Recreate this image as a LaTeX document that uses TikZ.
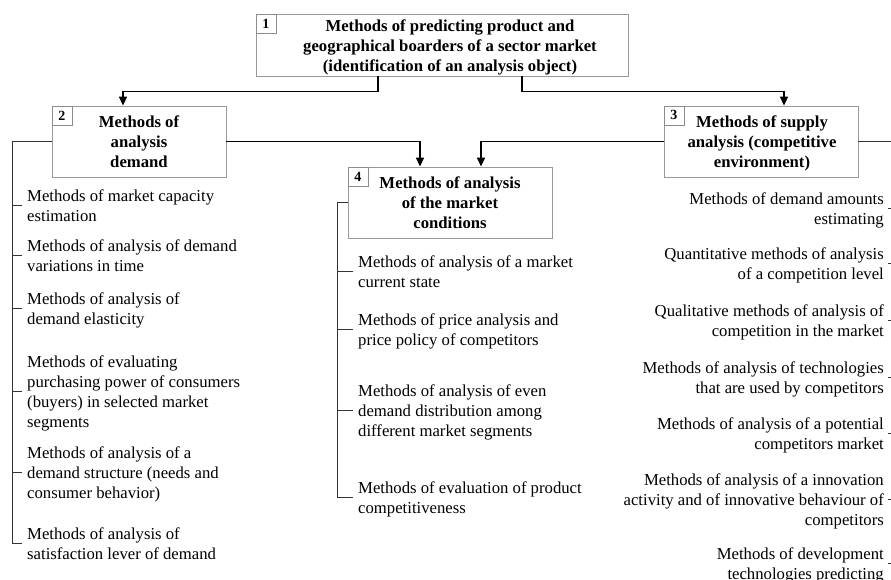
\documentclass[tikz,border=0pt]{standalone}
\usepackage{fontspec}
\setmainfont{Liberation Serif}
\usetikzlibrary{arrows.meta,shadows}

\begin{document}
\begin{tikzpicture}[x=1pt,y=-1pt,
  box/.style={draw=black!40, line width=0.8pt, fill=white, inner sep=0pt,
    drop shadow={shadow xshift=1.2pt, shadow yshift=-1.2pt, fill=black!22, opacity=1}},
  numbox/.style={draw=black!45, line width=0.6pt, fill=white, inner sep=0pt,
    minimum width=20pt, minimum height=19pt, anchor=north west,
    font=\fontsize{14}{16}\selectfont\bfseries},
  head/.style={align=center, inner sep=0pt, yshift=-3.5pt,
    font=\fontsize{16.7}{20}\selectfont\bfseries,
    execute at begin node=\strut, execute at end node=\strut},
  % text sits 3.5pt below its tick point
  item/.style={align=left, inner xsep=5pt, inner ysep=0pt, anchor=west, yshift=-3.5pt,
    font=\fontsize{16.7}{20}\selectfont,
    execute at begin node=\strut, execute at end node=\strut},
  ritem/.style={item, align=right, inner xsep=4pt, anchor=east},
  flow/.style={line width=1.5pt, -{Triangle[width=8pt,length=9pt]}},
  branch/.style={line width=0.9pt, draw=black!80}
]
\useasboundingbox (0,0) rectangle (891,579);

% main boxes
\node[box, minimum width=372pt, minimum height=62pt] (b1) at (442,45) {};
\node[box, minimum width=174pt, minimum height=71pt] (b2) at (139,141.5) {};
\node[box, minimum width=194pt, minimum height=71pt] (b3) at (761,141.5) {};
\node[box, minimum width=204pt, minimum height=71pt] (b4) at (450,202.5) {};

% box numbers
\node[numbox] (n1) at (b1.north west) {1};
\node[numbox] (n2) at (b2.north west) {2};
\node[numbox] (n3) at (b3.north west) {3};
\node[numbox] (n4) at (b4.north west) {4};

% box titles
\node[head] (t1) at (450,45) {Methods of predicting product and\\geographical boarders of a sector market\\(identification of an analysis object)};
\node[head] (t2) at (139,141.5) {Methods of\\analysis\\demand};
\node[head] (t3) at (762,141.5) {Methods of supply\\analysis (competitive\\environment)};
\node[head] (t4) at (450,202) {Methods of analysis\\of the market\\conditions};

% main flow
\draw[flow] ([xshift=-64pt]b1.south) -- ++(0,15) -| ([xshift=-16pt]b2.north);
\draw[flow] ([xshift=80pt]b1.south) -- ++(0,15) -| ([xshift=23pt]b3.north);
\draw[flow] (b2.east) -| ([xshift=-30pt]b4.north);
\draw[flow] (b3.west) -| ([xshift=31pt]b4.north);

% demand analysis methods
\path (22,205)   coordinate (l1-t) node[item] (l1) {Methods of market capacity\\estimation};
\path (22,255)   coordinate (l2-t) node[item] (l2) {Methods of analysis of demand\\variations in time};
\path (22,308.5) coordinate (l3-t) node[item] (l3) {Methods of analysis of\\demand elasticity};
\path (22,391)   coordinate (l4-t) node[item] (l4) {Methods of evaluating\\purchasing power of consumers\\(buyers) in selected market\\segments};
\path (22,472)   coordinate (l5-t) node[item] (l5) {Methods of analysis of a\\demand structure (needs and\\consumer behavior)};
\path (22,543)   coordinate (l6-t) node[item] (l6) {Methods of analysis of\\satisfaction lever of demand};

\coordinate (lbus) at (12,0);
\draw[branch] (b2.west) -| (lbus |- l6-t) -- (l6-t);
\foreach \n in {l1,l2,l3,l4,l5}
  \draw[branch] (lbus |- \n-t) -- (\n-t);

% market conditions methods
\path (353,271) coordinate (c1-t) node[item] (c1) {Methods of analysis of a market\\current state};
\path (353,329) coordinate (c2-t) node[item] (c2) {Methods of price analysis and\\price policy of competitors};
\path (353,410) coordinate (c3-t) node[item] (c3) {Methods of analysis of even\\demand distribution among\\different market segments};
\path (353,497) coordinate (c4-t) node[item] (c4) {Methods of evaluation of product\\competitiveness};

\coordinate (cbus) at (337,0);
\draw[branch] (b4.west) -| (cbus |- c4-t) -- (c4-t);
\foreach \n in {c1,c2,c3}
  \draw[branch] (cbus |- \n-t) -- (\n-t);

% supply analysis methods
\path (888,208)   coordinate (r1-t) node[ritem] (r1) {Methods of demand amounts\\estimating};
\path (888,263)   coordinate (r2-t) node[ritem] (r2) {Quantitative methods of analysis\\of a competition level};
\path (888,320)   coordinate (r3-t) node[ritem] (r3) {Qualitative methods of analysis of\\competition in the market};
\path (888,377.5) coordinate (r4-t) node[ritem] (r4) {Methods of analysis of technologies\\that are used by competitors};
\path (888,433)   coordinate (r5-t) node[ritem] (r5) {Methods of analysis of a potential\\competitors market};
\path (888,499)   coordinate (r6-t) node[ritem] (r6) {Methods of analysis of a innovation\\activity and of innovative behaviour of\\competitors};
\path (888,563)   coordinate (r7-t) node[ritem] (r7) {Methods of development\\technologies predicting};

\coordinate (rbus) at (891,0);
\draw[branch] (b3.east) -- (rbus |- b3.east);
\foreach \n in {r1,r2,r3,r4,r5,r6,r7}
  \draw[branch] (\n-t) -- (rbus |- \n-t);

\end{tikzpicture}
\end{document}
